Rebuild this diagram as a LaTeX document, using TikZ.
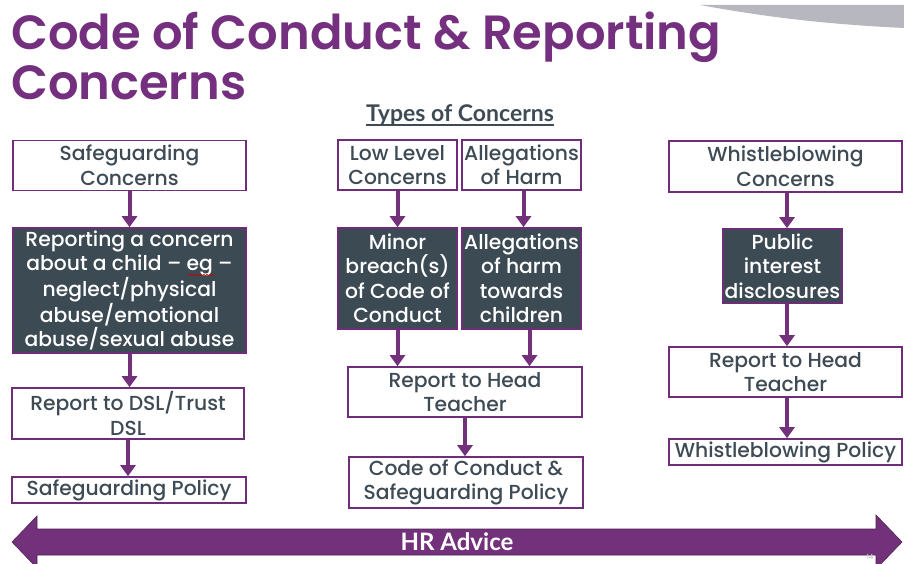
\documentclass[tikz,border=0pt]{standalone}
\usepackage{fontspec}
\setmainfont{Poppins Medium}
\newfontfamily\titlefont{Poppins SemiBold}
\newfontfamily\condfont{Lato}
\usetikzlibrary{arrows.meta,decorations.pathmorphing}
\definecolor{pborder}{HTML}{6F2C79}
\definecolor{parrow}{HTML}{72317A}
\definecolor{ptitle}{HTML}{74307F}
\definecolor{dfill}{HTML}{3C4A53}
\definecolor{tcol}{HTML}{3E4B55}
\definecolor{swoosh}{HTML}{B7B7BF}
\tikzset{
  box/.style={draw=pborder, line width=1.6pt, fill=white, text=tcol, align=center,
    inner sep=0pt, font=\fontsize{20.3}{24.5}\selectfont},
  dbox/.style={box, fill=dfill, text=white},
  flow/.style={draw=parrow, line width=4pt, -{Triangle[width=15pt,length=11pt]}},
}
\begin{document}
\begin{tikzpicture}[x=1pt,y=-1pt]
\useasboundingbox (0,0) rectangle (904,564);
% grey swoosh
\fill[swoosh] (700,5) -- (904,5) -- (904,28) .. controls (820,24) and (760,16) .. (700,5) -- cycle;
% title
\node[anchor=base west, inner sep=0pt, text=ptitle, font=\titlefont\fontsize{48}{50}\selectfont] (t1) at (11,50) {Code of Conduct \& Reporting};
\node[anchor=base west, inner sep=0pt, text=ptitle, font=\titlefont\fontsize{48}{50}\selectfont] (t2) at (11,100) {Concerns};
\node[anchor=base, inner sep=0pt, text=tcol, font=\condfont\bfseries\fontsize{23}{24}\selectfont] (types) at (460,122) {Types of Concerns};
\draw[tcol, line width=1.2pt] ([yshift=-3pt]types.base west) -- ([yshift=-3pt]types.base east);
% left column
\node[box, minimum width=233pt, minimum height=50pt] (sc) at (129.5,165.5) {Safeguarding\\Concerns};
\node[dbox, minimum width=233pt, minimum height=125pt] (rc) at (129.5,290.5) {Reporting a concern\\about a child -- eg --\\neglect/physical\\abuse/emotional\\abuse/sexual abuse};
\node[box, minimum width=232pt, minimum height=51pt] (rd) at (128,413.5) {Report to DSL/Trust\\DSL};
\node[box, minimum width=234pt, minimum height=26pt] (sp) at (129,490) {Safeguarding Policy};
% middle column
\node[box, minimum width=119pt, minimum height=50pt] (ll) at (397.5,165) {Low Level\\Concerns};
\node[box, minimum width=119pt, minimum height=50pt] (ah) at (521.5,165) {Allegations\\of Harm};
\node[dbox, minimum width=119pt, minimum height=101pt] (mb) at (397.5,278.5) {Minor\\breach(s)\\of Code of\\Conduct};
\node[dbox, minimum width=119pt, minimum height=101pt] (at) at (521.5,278.5) {Allegations\\of harm\\towards\\children};
\node[box, minimum width=234pt, minimum height=50pt] (rh) at (465,392) {Report to Head\\Teacher};
\node[box, minimum width=234pt, minimum height=51pt] (cc) at (466,482.5) {Code of Conduct \&\\Safeguarding Policy};
% right column
\node[box, minimum width=233pt, minimum height=51pt] (wc) at (785.5,166.5) {Whistleblowing\\Concerns};
\node[dbox, minimum width=119pt, minimum height=74pt] (pi) at (782.5,266) {Public\\interest\\disclosures};
\node[box, minimum width=233pt, minimum height=50pt] (rh2) at (785.5,372) {Report to Head\\Teacher};
\node[box, minimum width=233pt, minimum height=26pt] (wp) at (785.5,452) {Whistleblowing Policy};
% spellcheck squiggle under "eg"
\draw[red!80!black, line width=0.6pt, decorate, decoration={snake, amplitude=0.7pt, segment length=3pt}] (188,275) -- (214,275);
% connectors
\draw[flow] (sc.south) -- (rc.north);
\draw[flow] (rc.south) -- (rc.south |- rd.north);
\draw[flow] (rd.south) -- (rd.south |- sp.north);
\draw[flow] (ll.south) -- (mb.north);
\draw[flow] ([xshift=2pt]ah.south) -- ([xshift=2pt]at.north);
\draw[flow] (mb.south) -- (mb.south |- rh.north);
\draw[flow] ([xshift=8pt]at.south) -- ([xshift=8pt]at.south |- rh.north);
\draw[flow] (rh.south) -- (rh.south |- cc.north);
\draw[flow] ([xshift=1.5pt]wc.south) -- ([xshift=1.5pt]wc.south |- pi.north);
\draw[flow] ([xshift=4.5pt]pi.south) -- ([xshift=4.5pt]pi.south |- rh2.north);
\draw[flow] ([xshift=1.5pt]rh2.south) -- ([xshift=1.5pt]wp.north);
% HR advice double arrow
\filldraw[fill=parrow, draw=parrow!70!black, line width=0.6pt]
  (12,542) -- (37,516) -- (37,529) -- (876,529) -- (876,515) -- (902,542)
  -- (876,569) -- (876,555) -- (37,555) -- (37,568) -- cycle;
\node[text=white, font=\condfont\bfseries\fontsize{24}{26}\selectfont, inner sep=0pt] (hr) at (457,542) {HR Advice};
% slide number
\node[text=black!25, font=\fontsize{7}{7}\selectfont, inner sep=0pt] (num) at (870,557) {14};
\end{tikzpicture}
\end{document}
